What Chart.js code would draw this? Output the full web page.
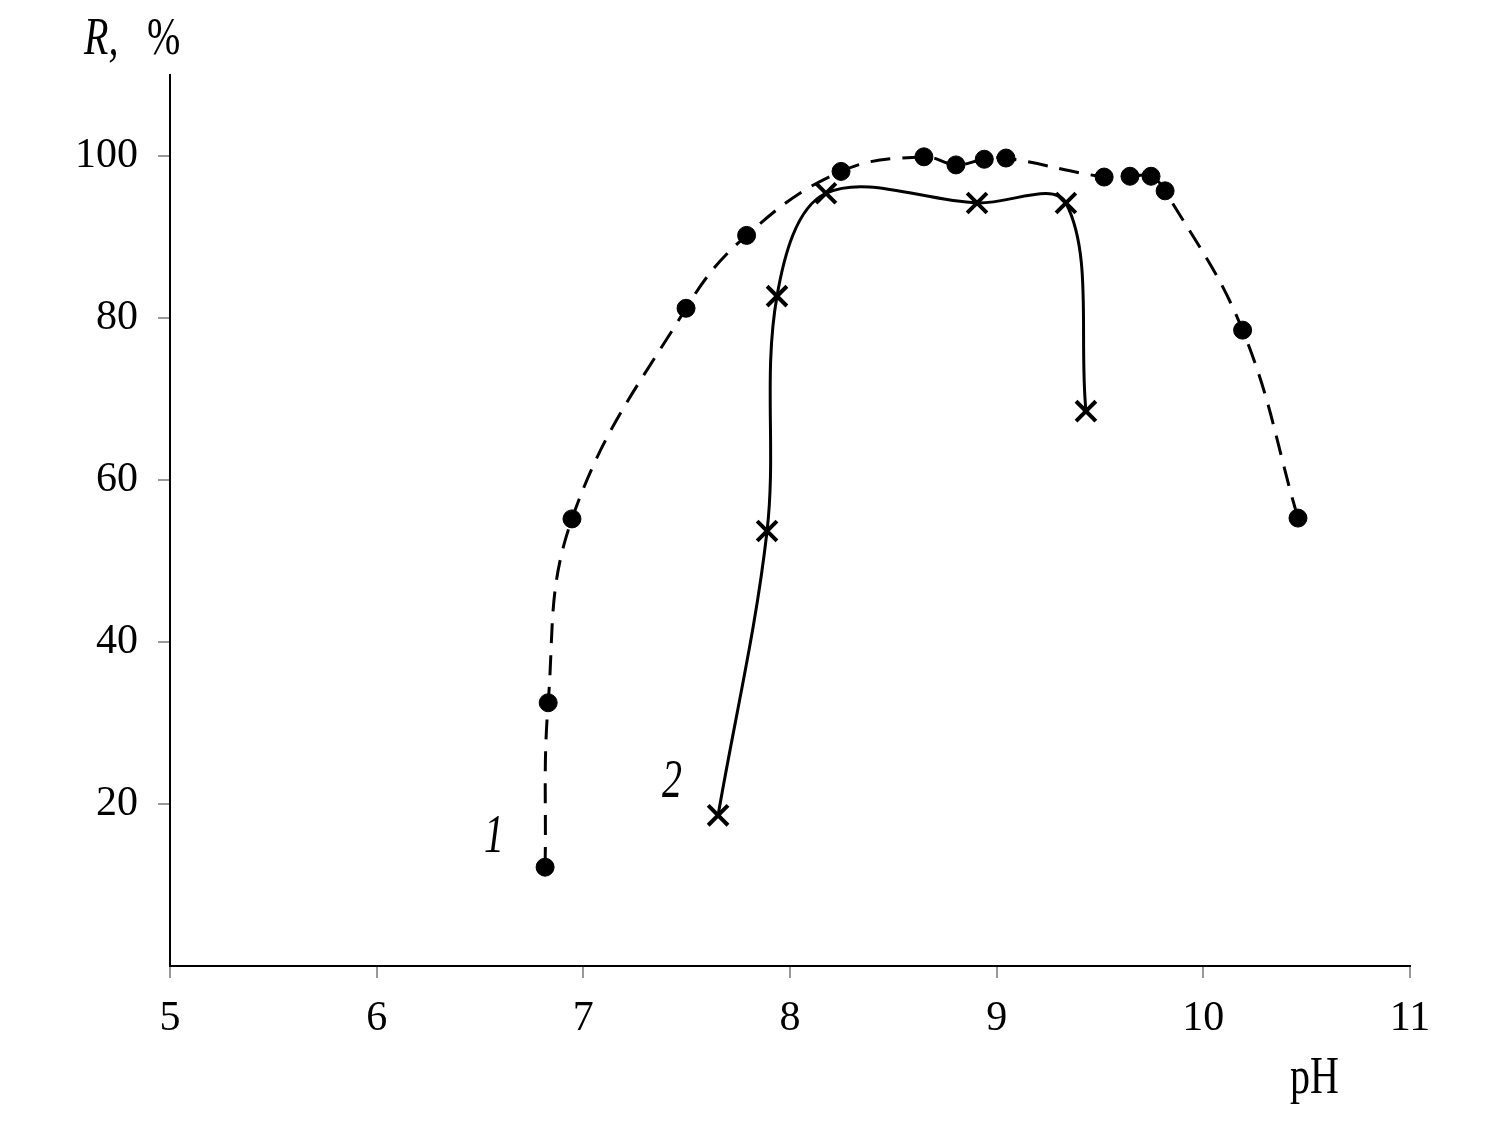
<!DOCTYPE html>
<html>
<head>
<meta charset="utf-8">
<script src="https://cdn.jsdelivr.net/npm/chart.js@4.4.0/dist/chart.umd.min.js"></script>
<style>
html,body{margin:0;padding:0;background:#fff;}
#wrap{width:1487px;height:1134px;position:relative;}
</style>
</head>
<body>
<div id="wrap"><canvas id="c" width="1487" height="1134"></canvas></div>
<script>
// Series 1 (circles, dashed line)
const s1X = [6.815, 6.83, 6.945, 7.497, 7.79, 8.247, 8.648, 8.803, 8.94, 9.045, 9.52, 9.645, 9.747, 9.815, 10.19, 10.458];
const s1Y = [12.2, 32.5, 55.2, 81.2, 90.2, 98.1, 99.9, 98.9, 99.6, 99.75, 97.4, 97.5, 97.5, 95.7, 78.5, 55.3];
// Series 2 (crosses, solid line)
const s2X = [7.652, 7.889, 7.937, 8.174, 8.905, 9.335, 9.432];
const s2Y = [18.6, 53.7, 82.7, 95.4, 94.2, 94.2, 68.5];
// Axis ticks
const xTicks = [5, 6, 7, 8, 9, 10, 11];
const yTicks = [20, 40, 60, 80, 100];
const seriesLabels = ['1', '2'];

const pts = (xs, ys) => xs.map((x, i) => ({x: x, y: ys[i]}));

const FONT = '"Liberation Serif", "Times New Roman", serif';

function stretchedText(ctx, txt, x, y, font, sy) {
  ctx.save();
  ctx.translate(x, y);
  ctx.scale(1, sy);
  ctx.font = font;
  ctx.fillText(txt, 0, 0);
  ctx.restore();
}

const textPlugin = {
  id: 'texts',
  afterDraw(chart) {
    const ctx = chart.ctx;
    ctx.save();
    ctx.fillStyle = '#000';
    ctx.textBaseline = 'alphabetic';
    ctx.textAlign = 'left';
    // axis titles
    stretchedText(ctx, 'R,', 84, 54, 'italic 40px ' + FONT, 1.3);
    stretchedText(ctx, '%', 147, 54, '40px ' + FONT, 1.3);
    stretchedText(ctx, 'pH', 1290, 1093, '40px ' + FONT, 1.3);
    // series labels
    stretchedText(ctx, seriesLabels[0], 484, 852, 'italic 40px ' + FONT, 1.35);
    stretchedText(ctx, seriesLabels[1], 662, 797, 'italic 40px ' + FONT, 1.35);
    ctx.restore();
  }
};

new Chart(document.getElementById('c'), {
  type: 'scatter',
  data: {
    datasets: [
      {
        label: seriesLabels[0],
        data: pts(s1X, s1Y),
        showLine: true,
        borderColor: '#000',
        borderWidth: 3,
        borderDash: [20, 12],
        tension: 0.4,
        pointStyle: 'circle',
        pointRadius: 9,
        pointBackgroundColor: '#000',
        pointBorderColor: '#000',
        pointBorderWidth: 1
      },
      {
        label: seriesLabels[1],
        data: pts(s2X, s2Y),
        showLine: true,
        borderColor: '#000',
        borderWidth: 3,
        tension: 0.35,
        pointStyle: 'crossRot',
        pointRadius: 14,
        pointBorderColor: '#000',
        pointBackgroundColor: '#000',
        pointBorderWidth: 4
      }
    ]
  },
  options: {
    responsive: false,
    animation: false,
    layout: {padding: {left: 0, top: 75, right: 77, bottom: 0}},
    plugins: {legend: {display: false}, tooltip: {enabled: false}},
    scales: {
      x: {
        type: 'linear',
        min: 5, max: 11,
        afterBuildTicks: s => { s.ticks = xTicks.map(v => ({value: v})); },
        afterFit: s => { s.height = 168; },
        border: {display: true, color: '#000', width: 2},
        grid: {display: true, drawOnChartArea: false, drawTicks: true, tickLength: 12, color: '#999', lineWidth: 2},
        ticks: {color: '#000', font: {family: FONT, size: 42}, padding: 16, maxRotation: 0}
      },
      y: {
        type: 'linear',
        min: 0, max: 110,
        afterBuildTicks: s => { s.ticks = yTicks.map(v => ({value: v})); },
        afterFit: s => { s.width = 170; },
        border: {display: true, color: '#000', width: 2},
        grid: {display: true, drawOnChartArea: false, drawTicks: true, tickLength: 12, color: '#999', lineWidth: 2},
        ticks: {color: '#000', font: {family: FONT, size: 42}, padding: 20}
      }
    }
  },
  plugins: [textPlugin]
});
</script>
</body>
</html>
